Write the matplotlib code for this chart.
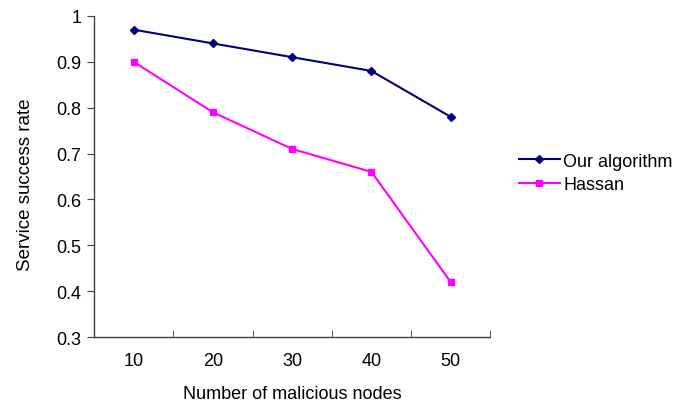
import matplotlib
matplotlib.use("Agg")
import matplotlib.pyplot as plt

categories = ["10", "20", "30", "40", "50"]
ours = [0.97, 0.94, 0.91, 0.88, 0.78]
hassan = [0.90, 0.79, 0.71, 0.66, 0.42]
yticks = [0.3, 0.4, 0.5, 0.6, 0.7, 0.8, 0.9, 1.0]
ytick_labels = ["0.3", "0.4", "0.5", "0.6", "0.7", "0.8", "0.9", "1"]

plt.rcParams['font.family'] = ['Liberation Sans', 'DejaVu Sans']
FS = 13

fig = plt.figure(figsize=(6.81, 4.02), dpi=100)
ax = fig.add_axes([0.138, 0.159, 0.582, 0.799])

x = list(range(len(categories)))
ax.plot(x, ours, color="#000080", marker="D", markersize=4, linewidth=1.5, label="Our algorithm")
ax.plot(x, hassan, color="#FF00FF", marker="s", markersize=4.5, linewidth=1.5, label="Hassan")

ax.set_xlim(-0.5, len(categories) - 0.5)
ax.set_ylim(0.3, 1.0)
ax.set_yticks(yticks)
ax.set_yticklabels(ytick_labels, fontsize=FS)
ax.set_xticks(x)
ax.set_xticklabels(categories, fontsize=FS)
ax.tick_params(axis="x", length=0, pad=11)
ax.set_xticks([i + 0.5 for i in range(len(categories))], minor=True)
ax.tick_params(axis="x", which="minor", direction="in", length=5, color="#404040")
ax.tick_params(axis="y", direction="out", length=5, color="#404040", pad=4)

for s in ["top", "right"]:
    ax.spines[s].set_visible(False)
for s in ["left", "bottom"]:
    ax.spines[s].set_color("#404040")
    ax.spines[s].set_linewidth(1.0)

ax.set_xlabel("Number of malicious nodes", fontsize=FS, labelpad=11)
ax.set_ylabel("Service success rate", fontsize=13.5)
ax.yaxis.set_label_coords(-0.151, 0.477)

ax.legend(loc="center left", bbox_to_anchor=(1.053, 0.511), frameon=False, fontsize=FS,
          handlelength=2.27, handletextpad=0.2, labelspacing=0.35, borderaxespad=0)

fig.savefig("out.png", dpi=100)
